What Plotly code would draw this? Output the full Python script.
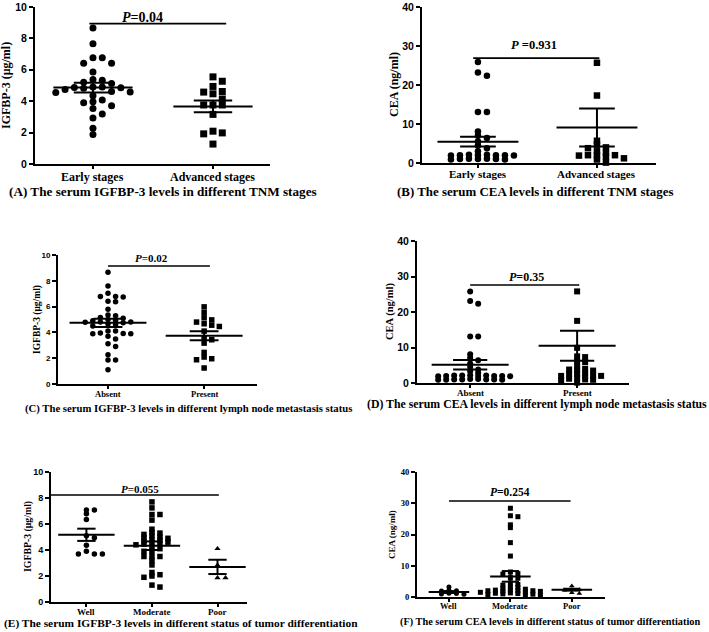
import plotly.graph_objects as go

W, H = 709, 632
SERIF = "Liberation Serif"
SANS = "Liberation Sans"

# ------------------------------------------------------------------ data
a_categories = ["Early stages", "Advanced stages"]
a_early = [8.67, 7.66, 6.77, 6.77, 6.41, 6.41, 5.86, 5.38, 5.34, 5.2, 5.12, 4.9, 4.9,
           4.88, 4.85, 4.82, 4.75, 4.62, 4.58, 4.55, 4.35, 4.07, 3.97, 3.9, 3.71,
           3.54, 3.19, 2.93, 2.28, 1.88]
a_advanced = [5.55, 5.27, 4.94, 4.62, 4.58, 4.47, 4.14, 3.76, 3.76, 3.76, 3.16,
              2.09, 1.98, 1.92, 1.27]
a_means = [4.87, 3.67]
a_sems = [0.31, 0.37]
a_p = "P=0.04"

b_categories = ["Early stages", "Advanced stages"]
b_early = [25.9, 23.2, 22.4, 13.1, 13.1, 8.1, 7.0, 6.4, 5.5, 4.5, 3.8, 3.0, 2.1, 2.0,
           2.0, 2.0, 2.0, 1.9, 1.9, 2.1, 1.1, 1.0, 1.0, 1.0, 0.9, 0.9, 1.1]
b_advanced = [25.7, 17.3, 5.7, 4.7, 4.0, 3.8, 3.0, 2.6, 2.0, 2.0, 2.0, 1.9, 1.6,
              1.2, 0.9, 0.1]
b_means = [5.47, 9.1]
b_sems = [1.25, 4.9]
b_p = "P =0.931"

c_categories = ["Absent", "Present"]
c_absent = [8.66, 7.6, 7.04, 6.78, 6.78, 6.75, 6.42, 6.37, 5.8, 5.35, 5.3, 5.15, 5.1,
            5.0, 4.95, 4.9, 4.8, 4.8, 4.78, 4.75, 4.65, 4.6, 4.5, 4.1, 4.1, 3.95,
            3.92, 3.9, 3.9, 3.7, 3.48, 3.12, 2.9, 2.27, 1.86, 1.86, 1.1]
c_present = [5.98, 5.54, 5.13, 4.97, 4.8, 4.67, 4.56, 4.46, 4.1, 3.56, 3.43, 3.17,
             2.45, 2.09, 1.96, 1.88, 1.24]
c_means = [4.74, 3.74]
c_sems = [0.32, 0.35]
c_p = "P=0.02"

d_categories = ["Absent", "Present"]
d_absent = [25.8, 23.1, 22.3, 13.1, 13.1, 8.1, 7.1, 6.4, 5.5, 4.5, 3.8, 3.3, 2.9,
            2.2, 2.1, 2.1, 2.0, 2.0, 2.0, 1.9, 1.9, 2.1, 2.0,
            1.1, 1.0, 1.0, 1.0, 0.9, 0.9, 1.1, 1.0, 0.9]
d_present = [25.8, 17.5, 9.9, 7.5, 7.3, 6.0, 5.9, 4.5, 4.0, 3.8, 3.6, 3.5, 2.8, 2.6,
             2.5, 2.1, 2.0, 2.0, 1.9, 1.6, 1.2, 1.0, 0.9, 0.8, 0.1]
d_means = [5.16, 10.5]
d_sems = [1.35, 4.25]
d_p = "P=0.35"

e_categories = ["Well", "Moderate", "Poor"]
e_well = [7.07, 7.07, 6.78, 6.34, 5.1, 4.94, 4.36, 3.9, 3.69, 3.69, 3.69]
e_moderate = [7.7, 7.24, 6.73, 6.73, 6.3, 5.6, 5.35, 5.3, 5.2, 5.1, 5.0, 4.95, 4.9,
              4.8, 4.75, 4.7, 4.6, 4.55, 4.5, 4.45, 4.4, 4.2, 4.1, 3.9, 3.9, 3.5,
              3.5, 3.5, 3.2, 2.85, 2.27, 2.1, 2.0, 1.9, 1.3, 1.15]
e_poor = [4.1, 2.83, 1.86, 1.86]
e_means = [5.17, 4.33, 2.7]
e_sems = [0.47, 0.33, 0.55]
e_p = "P=0.055"

f_categories = ["Well", "Moderate", "Poor"]
f_well = [3.2, 2.1, 2.0, 1.9, 1.2, 1.1, 1.0, 0.9]
f_moderate = [28.4, 26.0, 25.7, 23.1, 22.2, 17.4, 13.1, 8.0, 7.5, 7.3, 6.2, 6.0, 4.5,
              4.0, 3.8, 3.2, 3.0, 2.8, 2.5, 2.3, 2.2, 2.0, 2.0, 2.0, 1.9, 1.8, 1.6,
              1.5, 1.3, 1.2, 1.1, 1.0, 0.9, 0.8, 0.6, 0.5]
f_poor = [3.5, 2.3, 2.3, 2.2, 1.4, 1.1]
f_means = [1.6, 6.6, 2.34]
f_sems = [0.3, 1.7, 0.3]
f_p = "P=0.254"

captions = [
    "(A) The serum IGFBP-3 levels in different TNM stages",
    "(B) The serum CEA levels in different TNM stages",
    "(C) The serum IGFBP-3 levels in different lymph node metastasis status",
    "(D) The serum CEA levels in different lymph node metastasis status",
    "(E) The serum IGFBP-3 levels in different status of tumor differentiation",
    "(F) The serum CEA levels in different status of tumor differentiation",
]
ytitles = ["IGFBP-3 (μg/ml)", "CEA (ng/ml)", "IGFBP-3 (μg/ml)", "CEA (ng/ml)",
           "IGFBP-3 (μg/ml)", "CEA (ng/ml)"]
igfbp_ticks = [0, 2, 4, 6, 8, 10]
cea_ticks = [0, 10, 20, 30, 40]

# ------------------------------------------------------------------ layout specs (pixels)
panels = [
    dict(cats=a_categories, groups=[a_early, a_advanced], means=a_means, sems=a_sems,
         p=a_p, symbols=["circle", "square"], box=(35, 7, 270, 164), xr=(-0.483, 1.475),
         yr=(0, 10), ticks=igfbp_ticks, ms=7, step=9.3, th=0.85, mh=0.33, ch=0.16,
         ytf=(SANS, 10.5), xtf=(SERIF, 12, 177), pline=(-0.03, 1.11, 8.94),
         ptxt=(142, 17, 14), cap=(7, 191, 13.2), yt=(6, 86, 12)),
    dict(cats=b_categories, groups=[b_early, b_advanced], means=b_means, sems=b_sems,
         p=b_p, symbols=["circle", "square"], box=(422, 7, 656, 163), xr=(-0.47, 1.496),
         yr=(0, 40), ticks=cea_ticks, ms=6.5, step=9, th=0.55, mh=0.34, ch=0.15,
         ytf=(SANS, 10.5), xtf=(SERIF, 11, 174), pline=(-0.04, 1.02, 26.9),
         ptxt=(534, 45, 12.5), cap=(395, 192, 12.9), yt=(394, 85, 12)),
    dict(cats=c_categories, groups=[c_absent, c_present], means=c_means, sems=c_sems,
         p=c_p, symbols=["circle", "square"], box=(58, 255, 257, 384), xr=(-0.52, 1.55),
         yr=(0, 10), ticks=igfbp_ticks, ms=5.5, step=7.6, th=0.8, mh=0.4, ch=0.15,
         ytf=(SANS, 8), xtf=(SERIF, 8.5, 394), pline=(0.0, 1.06, 9.15),
         ptxt=(151, 258, 11), cap=(23, 408, 10.7), yt=(37, 320, 9.5)),
    dict(cats=d_categories, groups=[d_absent, d_present], means=d_means, sems=d_sems,
         p=d_p, symbols=["circle", "square"], box=(417, 241, 629, 383), xr=(-0.497, 1.485),
         yr=(0, 40), ticks=cea_ticks, ms=6, step=8, th=0.5, mh=0.36, ch=0.16,
         ytf=(SANS, 10.5), xtf=(SERIF, 9, 393), pline=(0.0, 1.02, 27.6),
         ptxt=(526, 277, 12), cap=(365, 404, 11.8), yt=(390, 312, 10.5)),
    dict(cats=e_categories, groups=[e_well, e_moderate, e_poor], means=e_means, sems=e_sems,
         p=e_p, symbols=["circle", "square", "triangle-up"], box=(51, 472, 247, 602),
         xr=(-0.54, 2.45), yr=(0, 10), ticks=igfbp_ticks, ms=5.5, step=8, th=0.5, mh=0.43,
         ch=0.14, ytf=(SANS, 9), xtf=(SERIF, 9, 612), pline=(-0.54, 2.02, 8.23),
         ptxt=(140, 489, 11), cap=(2, 623, 11.4), yt=(28, 537, 9.8)),
    dict(cats=f_categories, groups=[f_well, f_moderate, f_poor], means=f_means, sems=f_sems,
         p=f_p, symbols=["circle", "square", "triangle-up"], box=(417, 472, 605, 597),
         xr=(-0.52, 2.54), yr=(0, 40), ticks=cea_ticks, ms=5, step=7.5, th=0.55, mh=0.33,
         ch=0.14, ytf=(SERIF, 8.5), xtf=(SERIF, 8.5, 606), pline=(0.0, 1.98, 30.7),
         ptxt=(510, 492, 11.5), cap=(398, 622, 10.3), yt=(392, 535, 9)),
]


def swarm(vals, px_per_val, px_per_cat, step_px, thresh_px):
    """Beeswarm offsets (category units) computed from the values."""
    order = sorted(range(len(vals)), key=lambda i: -vals[i])
    placed = []
    offs = [0.0] * len(vals)
    slots = [0]
    for k in range(1, 14):
        slots += [k, -k]
    for i in order:
        y = vals[i] * px_per_val
        for s in slots:
            if all(not (ps == s and abs(py - y) < thresh_px) for ps, py in placed):
                placed.append((s, y))
                offs[i] = s * step_px / px_per_cat
                break
    return offs


fig = go.Figure()
layout = dict(width=W, height=H, margin=dict(l=0, r=0, t=0, b=0, autoexpand=False),
              paper_bgcolor="white", plot_bgcolor="white", showlegend=False,
              shapes=[], annotations=[])

for n, pnl in enumerate(panels, start=1):
    xa = "x" if n == 1 else f"x{n}"
    ya = "y" if n == 1 else f"y{n}"
    x0, y0, x1, y1 = pnl["box"]
    xr, yr = pnl["xr"], pnl["yr"]
    px_per_cat = (x1 - x0) / (xr[1] - xr[0])
    px_per_val = (y1 - y0) / (yr[1] - yr[0])

    for g, (vals, sym) in enumerate(zip(pnl["groups"], pnl["symbols"])):
        offs = swarm(vals, px_per_val, px_per_cat, pnl["step"], pnl["ms"] * pnl["th"])
        fig.add_trace(go.Scatter(
            x=[g + o for o in offs], y=vals, mode="markers", xaxis=xa, yaxis=ya,
            marker=dict(symbol=sym, size=pnl["ms"], color="black", line=dict(width=0)),
            hoverinfo="skip", cliponaxis=False))

    # mean and SEM
    mx, my, ex, ey = [], [], [], []
    for g, (m, s) in enumerate(zip(pnl["means"], pnl["sems"])):
        mx += [g - pnl["mh"], g + pnl["mh"], None]
        my += [m, m, None]
        ex += [g - pnl["ch"], g + pnl["ch"], None, g, g, None, g - pnl["ch"], g + pnl["ch"], None]
        ey += [m + s, m + s, None, m + s, m - s, None, m - s, m - s, None]
    fig.add_trace(go.Scatter(x=mx, y=my, mode="lines", xaxis=xa, yaxis=ya,
                             line=dict(color="black", width=2), hoverinfo="skip"))
    fig.add_trace(go.Scatter(x=ex, y=ey, mode="lines", xaxis=xa, yaxis=ya,
                             line=dict(color="black", width=2), hoverinfo="skip"))

    dom_x = [x0 / W, x1 / W]
    dom_y = [1 - y1 / H, 1 - y0 / H]
    layout["xaxis" if n == 1 else f"xaxis{n}"] = dict(
        domain=dom_x, range=list(xr), anchor=ya, showline=True, linecolor="black",
        linewidth=2, ticks="outside", ticklen=3, tickwidth=2, tickcolor="black",
        tickvals=list(range(len(pnl["cats"]))), showticklabels=False,
        showgrid=False, zeroline=False, fixedrange=True, automargin=False)
    layout["yaxis" if n == 1 else f"yaxis{n}"] = dict(
        domain=dom_y, range=list(yr), anchor=xa, showline=True, linecolor="black",
        linewidth=2, ticks="outside", ticklen=4, tickwidth=2, tickcolor="black",
        tickvals=pnl["ticks"], ticklabeloverflow="allow",
        tickfont=dict(family=pnl["ytf"][0], size=pnl["ytf"][1], color="black", weight="bold"),
        showgrid=False, zeroline=False, fixedrange=True, automargin=False)

    # category labels
    xfam, xsize, xpy = pnl["xtf"]
    for g, cat in enumerate(pnl["cats"]):
        layout["annotations"].append(dict(
            text="<b>" + cat + "</b>", x=g, y=1 - xpy / H, xref=xa, yref="paper",
            xanchor="center", yanchor="middle", showarrow=False,
            font=dict(family=xfam, size=xsize, color="black")))

    # P-value bracket
    lx0, lx1, ly = pnl["pline"]
    layout["shapes"].append(dict(type="line", xref=xa, yref=ya, x0=lx0, x1=lx1, y0=ly, y1=ly,
                                 line=dict(color="black", width=1.6)))
    tx, ty, ts = pnl["ptxt"]
    ptxt = pnl["p"]
    layout["annotations"].append(dict(
        text="<b><i>P</i>" + ptxt[1:] + "</b>", x=tx / W, y=1 - ty / H, xref="paper",
        yref="paper", xanchor="center", yanchor="middle", showarrow=False,
        font=dict(family=SERIF, size=ts, color="black")))
    # caption
    cx, cy, cs = pnl["cap"]
    layout["annotations"].append(dict(
        text="<b>" + captions[n - 1] + "</b>", x=cx / W, y=1 - cy / H, xref="paper",
        yref="paper", xanchor="left", yanchor="middle", showarrow=False,
        font=dict(family=SERIF, size=cs, color="black")))
    # y axis title
    ax_, ay_, as_ = pnl["yt"]
    layout["annotations"].append(dict(
        text="<b>" + ytitles[n - 1] + "</b>", x=ax_ / W, y=1 - ay_ / H, xref="paper",
        yref="paper", xanchor="center", yanchor="middle", showarrow=False, textangle=-90,
        font=dict(family=SERIF, size=as_, color="black")))

fig.update_layout(**layout)
fig.write_html("out.html", config={"displayModeBar": False},
               post_script="document.body.style.margin='0';document.body.style.overflow='hidden';")
